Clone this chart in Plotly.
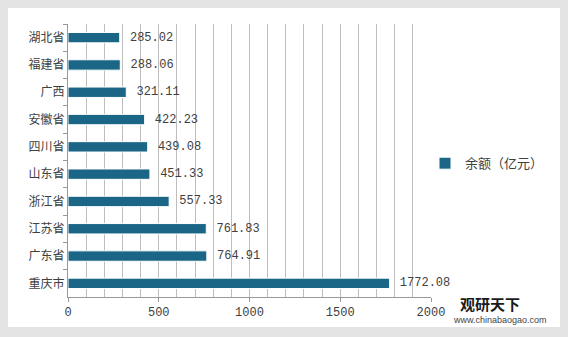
import plotly.graph_objects as go

# Provincial balance, top 10 (亿元)
regions = ["湖北省", "福建省", "广西", "安徽省", "四川省", "山东省", "浙江省", "江苏省", "广东省", "重庆市"]
balances = [285.02, 288.06, 321.11, 422.23, 439.08, 451.33, 557.33, 761.83, 764.91, 1772.08]
series_name = "余额（亿元）"
x_ticks = [0, 500, 1000, 1500, 2000]

BAR = "#1b6687"
NUM_FONT = "Liberation Mono, DejaVu Sans Mono, monospace"
CJK_FONT = "Noto Sans CJK SC, sans-serif"

fig = go.Figure()
fig.add_trace(go.Bar(
    x=balances,
    y=regions,
    orientation="h",
    name=series_name,
    marker=dict(color=BAR, line=dict(color="white", width=1)),
    text=[f" {v:.2f}" for v in balances],
    textposition="outside",
    constraintext="none",
    textfont=dict(size=12, color="#404040", family=NUM_FONT),
    cliponaxis=False,
    showlegend=True,
))

fig.update_layout(
    width=568, height=337,
    margin=dict(l=68, r=137, t=24, b=40, autoexpand=False),
    paper_bgcolor="#e4e4e4",
    plot_bgcolor="#f7f7f7",
    bargap=0.62,
    font=dict(family=CJK_FONT, size=12, color="#404040"),
    legend=dict(x=(425 - 68) / 363, y=0.49, xanchor="left", yanchor="middle",
                itemwidth=30, bgcolor="rgba(0,0,0,0)",
                font=dict(size=13, color="#404040", family=CJK_FONT)),
    shapes=[dict(type="rect", xref="paper", yref="paper",
                 x0=-60/363, x1=492/363, y0=-30/273, y1=289/273,
                 fillcolor="white", line=dict(width=0), layer="below")],
    annotations=[
        dict(text="<b>观研天下</b>", xref="paper", yref="paper",
             x=(490 - 68) / 363, y=(297 - 303) / 273,
             xanchor="center", yanchor="middle", showarrow=False,
             font=dict(size=15, color="#1a1a1a", family=CJK_FONT)),
        dict(text="www.chinabaogao.com", xref="paper", yref="paper",
             x=(500 - 68) / 363, y=(297 - 320) / 273,
             xanchor="center", yanchor="middle", showarrow=False,
             font=dict(size=9, color="#444444", family="Liberation Sans")),
    ],
)

fig.update_xaxes(
    range=[0, 2000],
    tickvals=x_ticks,
    ticks="outside", ticklen=4, tickcolor="#999999",
    showline=True, linecolor="#999999", linewidth=1,
    showgrid=True, gridcolor="#bdbdbd", gridwidth=1,
    minor=dict(dtick=100, showgrid=True, gridcolor="#bdbdbd", gridwidth=1),
    zeroline=False,
    tickfont=dict(size=12, color="#404040", family=NUM_FONT),
)
fig.update_yaxes(
    categoryorder="array", categoryarray=regions,
    autorange="reversed",
    showline=True, linecolor="#999999", linewidth=1,
    ticks="outside", ticklen=4, tickcolor="#999999", tickson="boundaries",
    showgrid=False,
    tickfont=dict(size=12, color="#404040", family=CJK_FONT),
)

fig.write_html("out.html")
